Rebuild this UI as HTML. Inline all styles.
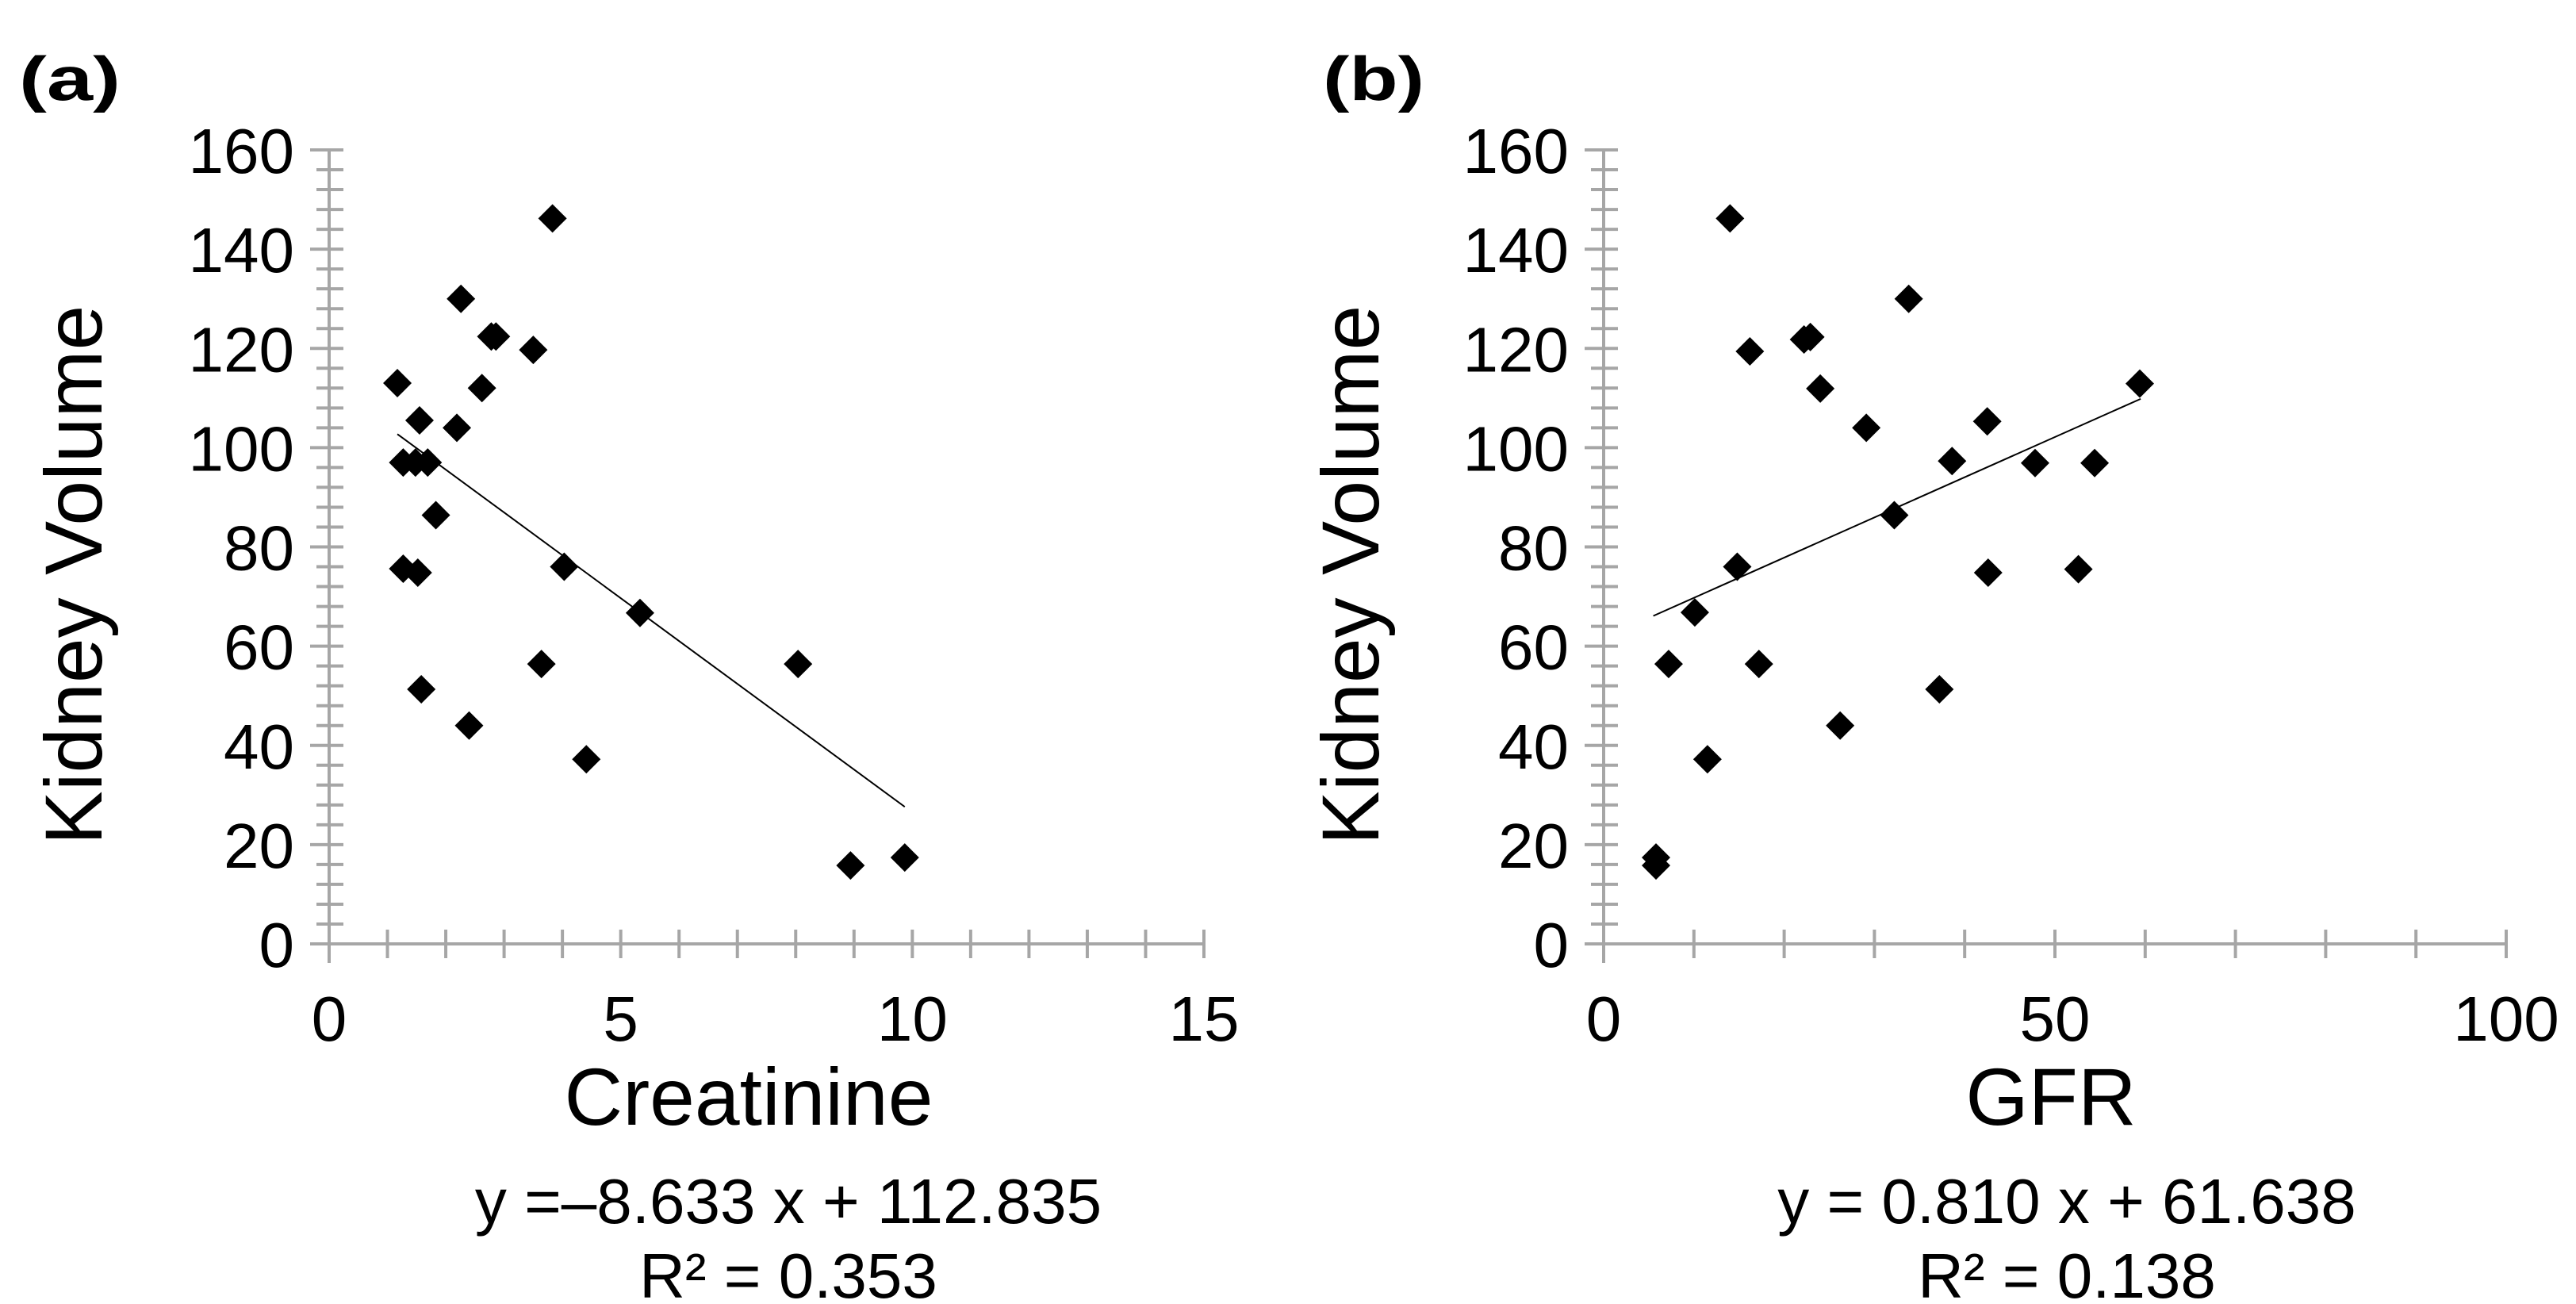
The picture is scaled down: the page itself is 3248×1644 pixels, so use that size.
<!DOCTYPE html>
<html><head><meta charset="utf-8">
<style>
html,body{margin:0;padding:0;background:#fff;}
svg{display:block;font-family:"Liberation Sans",Arial,sans-serif;}
</style></head>
<body>
<svg id="fig" width="3248" height="1644" viewBox="0 0 3248 1644" xmlns="http://www.w3.org/2000/svg">
  <g id="pa"></g>
  <g id="pb"></g>
</svg>
<script>
// Panel (a): Creatinine vs Kidney Volume
const creatX = [1.17,1.27,1.48,1.69,1.55,2.19,1.83,1.27,1.52,1.58,2.26,2.78,2.86,3.5,2.62,3.83,4.03,5.33,3.64,2.40,4.41,8.04,8.94,9.87];
const creatY = [113,97,97,97,105.5,104,86.4,75.6,74.8,51.3,130,122.4,122.4,119.7,112,146.2,76,66.7,56.4,44,37.2,56.4,15.8,17.4];
const creatFit = [-8.633, 112.835];
const creatFitRange = [1.17, 9.87];
const creatXTicks = [0,5,10,15];
// Panel (b): GFR vs Kidney Volume
const gfrX = [14.0,16.2,22.2,22.9,24.0,33.8,29.1,42.5,59.4,38.6,47.8,54.4,32.2,14.8,42.6,52.6,10.1,7.2,17.2,37.2,26.2,11.5,5.8,5.8];
const gfrY = [146.2,119.4,121.8,122.3,111.9,130,104,105.3,112.9,97.3,96.9,96.9,86.4,76,74.8,75.5,66.8,56.4,56.4,51.3,44,37.2,17.4,15.8];
const gfrFit = [0.810, 61.638];
const gfrFitRange = [5.5, 59.5];
const gfrXTicks = [0,50,100];
const yTicks = [0,20,40,60,80,100,120,140,160];

const NS = "http://www.w3.org/2000/svg";
function mk(parent, tag, attrs, text){
  const e = document.createElementNS(NS, tag);
  for (const k in attrs) e.setAttribute(k, attrs[k]);
  if (text !== undefined) e.textContent = text;
  parent.appendChild(e);
  return e;
}

function panel(g, cfg){
  const {x0px, x1px, xmax, xminor, xs, ys, fit, fr, xticks, label, xtitle, eq, r2, tx} = cfg;
  const y0px = 1190, y1px = 189, ymax = 160;
  const sx = v => x0px + (x1px - x0px) * v / xmax;
  const sy = v => y0px - (y0px - y1px) * v / ymax;
  const axc = "#a6a6a6";
  let el = mk(g, "line", {x1:x0px, y1:sy(0), x2:x0px, y2:sy(160), stroke:axc, "stroke-width":4});
  
  
  for (let v = 0; v <= 160; v += 4){
    const major = v % 20 === 0;
    const t = mk(g, "line", {x1: major ? x0px-24 : x0px-16, y1: sy(v), x2: x0px+18, y2: sy(v), stroke:axc, "stroke-width":4});
    
    
  }
  el = mk(g, "line", {x1:x0px-24, y1:y0px, x2:x1px, y2:y0px, stroke:axc, "stroke-width":4});
  
  
  for (let v = 0; v <= xmax + 1e-9; v += xminor){
    const t = mk(g, "line", {x1: sx(v), y1: y0px-18, x2: sx(v), y2: v===0 ? y0px+24 : y0px+18, stroke:axc, "stroke-width":4});
    
    
  }
  yTicks.forEach(v => {
    const t = mk(g, "text", {x: x0px-44, y: sy(v)+29, "text-anchor":"end", "font-size":80, fill:"#000"}, String(v));
    
    
  });
  xticks.forEach(v => {
    const t = mk(g, "text", {x: sx(v), y: 1312, "text-anchor":"middle", "font-size":80, fill:"#000"}, String(v));
    
    
  });
  el = mk(g, "line", {x1:sx(fr[0]), y1:sy(fit[0]*fr[0]+fit[1]), x2:sx(fr[1]), y2:sy(fit[0]*fr[1]+fit[1]), stroke:"#000", "stroke-width":2});
  
  
  xs.forEach((xv, i) => {
    const cx = sx(xv), cy = sy(ys[i]), h = 18;
    const p = mk(g, "polygon", {points: `${cx},${cy-h} ${cx+h},${cy} ${cx},${cy+h} ${cx-h},${cy}`, fill:"#000"});
    
    
  });
  el = mk(g, "text", {x: tx.label, y: 126, "font-size":78, "font-weight":"bold", fill:"#000", textLength:128, lengthAdjust:"spacingAndGlyphs"}, label);
  
  
  el = mk(g, "text", {x: 0, y: 0, "text-anchor":"middle", "font-size":102, fill:"#000", transform:`translate(${tx.ytitle},725) rotate(-90)`}, "Kidney Volume");
  
  
  el = mk(g, "text", {x: tx.xtitle, y: 1418, "text-anchor":"middle", "font-size":102, fill:"#000"}, xtitle);
  
  
  el = mk(g, "text", {x: tx.eq, y: 1542, "text-anchor":"middle", "font-size":80, fill:"#000"}, eq);
  
  
  el = mk(g, "text", {x: tx.eq, y: 1636, "text-anchor":"middle", "font-size":80, fill:"#000"}, r2);
  
  
}

panel(document.getElementById('pa'), {
  x0px:415, x1px:1518, xmax:15, xminor:1, xs:creatX, ys:creatY, fit:creatFit, fr:creatFitRange,
  xticks:creatXTicks, label:"(a)", xtitle:"Creatinine", eq:"y =\u20138.633 x + 112.835", r2:"R\u00b2 = 0.353",
  tx:{label:24, ytitle:128, xtitle:944, eq:994}
});
panel(document.getElementById('pb'), {
  x0px:2022, x1px:3160, xmax:100, xminor:10, xs:gfrX, ys:gfrY, fit:gfrFit, fr:gfrFitRange,
  xticks:gfrXTicks, label:"(b)", xtitle:"GFR", eq:"y = 0.810 x + 61.638", r2:"R\u00b2 = 0.138",
  tx:{label:1668, ytitle:1738, xtitle:2586, eq:2606}
});
</script>
</body></html>
